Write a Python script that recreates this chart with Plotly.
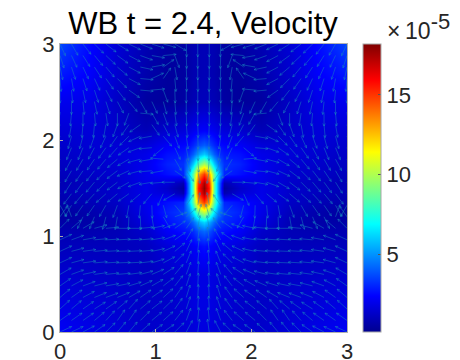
import math
import plotly.graph_objects as go

# Speed field (units of 1e-5) on a non-uniform mesh
speed_x = [0, .3, .6, .9, 1.12, 1.29, 1.35, 1.39, 1.44, 1.5, 1.56, 1.61, 1.65, 1.71, 1.88, 2.1, 2.4, 2.7, 3]
speed_y = [0, .3, .6, .9, 1.05, 1.15, 1.25, 1.35, 1.45, 1.5, 1.55, 1.65, 1.75, 1.85, 1.95, 2.1, 2.4, 2.7, 3]
speed = [
    [2.2, 1.9, 1.6, 1.3, 1.4, 1.5, 1.6, 1.6, 1.7, 1.7, 1.7, 1.6, 1.6, 1.5, 1.4, 1.3, 1.6, 1.9, 2.2],
    [1.8, 1.6, 1.4, 1.2, 1.3, 1.5, 1.6, 1.7, 1.8, 1.8, 1.8, 1.7, 1.6, 1.5, 1.3, 1.2, 1.4, 1.6, 1.8],
    [1.4, 1.3, 1.2, 1.1, 1.3, 1.5, 1.6, 1.7, 1.8, 1.8, 1.8, 1.7, 1.6, 1.5, 1.3, 1.1, 1.2, 1.3, 1.4],
    [1.0, 1.0, 1.0, 1.1, 1.6, 1.9, 2.0, 2.2, 2.4, 2.6, 2.4, 2.2, 2.0, 1.9, 1.6, 1.1, 1.0, 1.0, 1.0],
    [.8, .8, .9, 1.3, 2.2, 2.6, 2.8, 3.1, 3.8, 4.2, 3.8, 3.1, 2.8, 2.6, 2.2, 1.3, .9, .8, .8],
    [.6, .6, .85, 1.7, 2.6, 3.1, 3.5, 4.2, 5.4, 6.2, 5.4, 4.2, 3.5, 3.1, 2.6, 1.7, .85, .6, .6],
    [.4, .7, 1.0, 1.9, 2.9, 3.4, 4.7, 6.5, 9.0, 10.5, 9.0, 6.5, 4.7, 3.4, 2.9, 1.9, 1.0, .7, .4],
    [.7, .9, 1.2, 2.0, 2.6, 3.0, 6, 8.5, 13, 15, 13, 8.5, 6, 3.0, 2.6, 2.0, 1.2, .9, .7],
    [.85, 1.05, 1.3, 1.9, 1.6, .8, 5, 8.5, 15, 17.5, 15, 8.5, 5, .8, 1.6, 1.9, 1.3, 1.05, .85],
    [.9, 1.1, 1.3, 1.9, 1.3, .4, 5, 8.5, 15.5, 18, 15.5, 8.5, 5, .4, 1.3, 1.9, 1.3, 1.1, .9],
    [.85, 1.05, 1.3, 1.9, 1.6, .8, 5, 8.5, 15, 17.5, 15, 8.5, 5, .8, 1.6, 1.9, 1.3, 1.05, .85],
    [1.0, 1.2, 1.4, 2.0, 2.6, 3.0, 6, 8.5, 13, 15, 13, 8.5, 6, 3.0, 2.6, 2.0, 1.4, 1.2, 1.0],
    [1.1, 1.3, 1.5, 2.0, 2.9, 3.2, 4.5, 6, 8.5, 10, 8.5, 6, 4.5, 3.2, 2.9, 2.0, 1.5, 1.3, 1.1],
    [1.2, 1.4, 1.6, 1.9, 2.6, 2.8, 3.3, 4, 5.2, 6, 5.2, 4, 3.3, 2.8, 2.6, 1.9, 1.6, 1.4, 1.2],
    [1.3, 1.5, 1.5, 1.6, 2.2, 2.4, 2.6, 3, 3.6, 4, 3.6, 3, 2.6, 2.4, 2.2, 1.6, 1.5, 1.5, 1.3],
    [1.5, 1.6, 1.3, .9, 1.4, 1.6, 1.8, 2, 2.2, 2.3, 2.2, 2, 1.8, 1.6, 1.4, .9, 1.3, 1.6, 1.5],
    [2.0, 1.9, 1.2, .45, .35, .5, .7, .85, .95, 1.0, .95, .85, .7, .5, .35, .45, 1.2, 1.9, 2.0],
    [2.8, 2.3, 1.4, .7, .4, .45, .6, .75, .85, .9, .85, .75, .6, .45, .4, .7, 1.4, 2.3, 2.8],
    [3.6, 2.5, 1.5, .8, .5, .5, .7, .8, .9, .9, .9, .8, .7, .5, .5, .8, 1.5, 2.5, 3.6],
]

# Arrow mesh and arrow directions in degrees, rows from y=3 down to y=0
arrow_x = [0, .12, .24, .36, .48, .6, .72, .84, .96, 1.08, 1.2, 1.32, 1.44,
           1.56, 1.68, 1.8, 1.92, 2.04, 2.16, 2.28, 2.4, 2.52, 2.64, 2.76, 2.88, 3]
arrow_y = [3, 2.88, 2.76, 2.64, 2.52, 2.4, 2.28, 2.16, 2.04, 1.92, 1.8, 1.68, 1.56,
           1.44, 1.32, 1.2, 1.08, .96, .84, .72, .6, .48, .36, .24, .12, 0]
N = None
arrow_angle = [
    [-65, -60, -52, -45, -38, -32, -26, -22, -18, -15, -30, -88, -90, -90, -92, -150, -165, -162, -158, -154, -148, -142, -135, -128, -120, -115],
    [-72, -65, -58, -50, -43, -36, -28, -20, -10, 5, -70, -88, -90, -90, -92, -110, 175, -170, -160, -152, -144, -137, -130, -122, -115, -108],
    [-78, -72, -65, -57, -50, -40, -28, -12, 10, 35, -80, -88, -90, -90, -92, -100, 145, 170, -168, -152, -140, -130, -123, -115, -108, -102],
    [-85, -80, -72, -65, -55, -45, -28, -5, 25, 55, -85, -88, -89, -91, -92, -95, 125, 155, -175, -152, -135, -125, -115, -108, -100, -95],
    [-90, -85, -78, -72, -62, -52, -35, -5, 5, -70, -88, -90, -90, -90, -90, -92, -110, 175, -175, -145, -128, -118, -108, -102, -95, -90],
    [-95, -90, -84, -78, -72, -62, -50, -60, -65, -75, -85, -90, -90, -90, -90, -95, -105, -115, -120, -130, -118, -108, -102, -96, -90, -85],
    [-100, -95, -90, -85, -82, -90, -110, -5, -60, -70, -82, -88, -90, -90, -92, -98, -110, -120, -175, -70, -90, -98, -95, -90, -85, -80],
    [-105, -100, -95, -95, -100, -110, -125, -145, -55, -62, -75, -85, -88, -92, -95, -105, -118, -125, -35, -55, -70, -80, -85, -85, -80, -75],
    [-110, -105, -105, -110, -115, -125, -135, -155, -170, -50, -70, -82, -88, -92, -98, -110, -130, -10, -25, -45, -55, -65, -70, -75, -75, -70],
    [-113, -112, -112, -118, -125, -132, -145, -160, -175, -140, -65, -80, -88, -92, -100, -115, -40, -5, -20, -35, -48, -55, -62, -68, -68, -67],
    [-116, -118, -120, -124, -130, -140, -150, -165, -170, 175, -60, -72, -85, -95, -108, -120, 5, -10, -15, -30, -40, -50, -56, -60, -62, -64],
    [-118, -120, -124, -128, -135, -143, -155, -165, -175, -170, -35, -55, -80, -100, -125, -145, -10, -5, -15, -25, -37, -45, -52, -56, -60, -62],
    [-120, -122, -126, -130, -135, -143, -150, -160, -170, -175, 180, N, N, N, N, 0, -5, -10, -20, -30, -37, -45, -50, -54, -58, -60],
    [-125, -127, -130, -133, -138, -140, -145, -140, -130, -115, -150, N, N, N, N, -30, -65, -50, -40, -35, -40, -42, -47, -50, -53, -55],
    [-60, -120, -125, -125, -120, -110, -100, -95, -88, -75, -50, 55, 80, 100, 125, -130, -105, -92, -85, -80, -70, -60, -55, -55, -60, -120],
    [55, 110, -115, -112, -105, -100, -92, -88, -80, -60, 20, 40, 75, 105, 140, 160, -120, -100, -92, -88, -80, -75, -68, -65, 70, 125],
    [45, 40, 30, 15, 5, 0, 0, 5, 12, 20, 35, 55, 80, 100, 125, 145, 160, 168, 175, 180, 180, 175, 165, 150, 140, 135],
    [25, 20, 10, 5, 3, 3, 3, 5, 10, 20, 35, 60, 82, 98, 120, 145, 160, 170, 175, 177, 177, 177, 175, 170, 160, 155],
    [25, 15, 8, 5, 3, 2, 3, 5, 12, 25, 40, 65, 84, 96, 115, 140, 155, 168, 175, 177, 178, 177, 175, 172, 165, 155],
    [25, 15, 8, 5, 3, 2, 3, 7, 17, 28, 45, 68, 85, 95, 112, 135, 152, 163, 173, 177, 178, 177, 175, 172, 165, 155],
    [30, 20, 12, 8, 6, 5, 8, 15, 23, 33, 50, 70, 86, 94, 110, 130, 147, 157, 165, 172, 175, 174, 172, 168, 160, 150],
    [35, 28, 20, 14, 10, 12, 17, 24, 30, 38, 52, 72, 87, 93, 108, 128, 142, 150, 156, 163, 168, 170, 166, 160, 152, 145],
    [40, 35, 28, 22, 20, 22, 30, 35, 35, 42, 55, 73, 87, 93, 107, 125, 138, 145, 145, 150, 158, 160, 158, 152, 145, 140],
    [42, 40, 35, 32, 35, 40, 48, 40, 38, 44, 55, 72, 87, 93, 108, 125, 136, 142, 140, 132, 140, 145, 148, 145, 140, 138],
    [35, 35, 35, 40, 48, 55, 55, 45, 40, 42, 52, 70, 85, 95, 110, 128, 138, 140, 135, 125, 125, 132, 140, 145, 145, 145],
    [25, 25, 28, 35, 45, 50, 50, 42, 35, 35, 45, 62, 82, 98, 118, 135, 145, 145, 138, 130, 130, 135, 145, 152, 155, 155],
]

axis_ticks = [0, 1, 2, 3]
colorbar_ticks = [5, 10, 15]
title_text = "WB t = 2.4, Velocity"
exponent_text = '×\u200910<sup><span style="font-size:22px">-5</span></sup>'

ARROW_LEN = 0.135
HEAD_LEN = 0.03
jet = [[0, "rgb(0,0,143)"], [.125, "rgb(0,0,255)"], [.375, "rgb(0,255,255)"],
       [.625, "rgb(255,255,0)"], [.875, "rgb(255,0,0)"], [1, "rgb(128,0,0)"]]

line_x, line_y = [], []
for j, y0 in enumerate(arrow_y):
    for i, x0 in enumerate(arrow_x):
        a = arrow_angle[j][i]
        if a is None:
            continue
        t = math.radians(a)
        tx, ty = x0 + ARROW_LEN * math.cos(t), y0 + ARROW_LEN * math.sin(t)
        line_x += [x0, tx, None]
        line_y += [y0, ty, None]
        for da in (155, -155):
            h = t + math.radians(da)
            line_x += [tx, tx + HEAD_LEN * math.cos(h), None]
            line_y += [ty, ty + HEAD_LEN * math.sin(h), None]

FONT = "Liberation Sans, Arial, sans-serif"
L, R, T, B = 60, 347, 44, 332

fig = go.Figure()
fig.add_trace(go.Heatmap(
    x=speed_x, y=speed_y, z=speed, zsmooth="best", zmin=0.1, zmax=18.2,
    colorscale=jet, hoverinfo="skip",
    colorbar=dict(
        x=(363 - L) / (R - L), xanchor="left", xpad=0, ypad=0, y=0.5, yanchor="middle",
        len=1, lenmode="fraction", thickness=18, thicknessmode="pixels",
        tickvals=colorbar_ticks, ticks="inside", ticklen=3, tickcolor="#555555",
        outlinecolor="#a8a8a8", outlinewidth=1,
        tickfont=dict(family=FONT, size=22, color="#262626"),
    ),
))
fig.add_trace(go.Scatter(
    x=line_x, y=line_y, mode="lines", cliponaxis=True, hoverinfo="skip", showlegend=False,
    line=dict(color="rgba(25,135,190,0.55)", width=0.9),
))

axis_style = dict(
    range=[0, 3], tickvals=axis_ticks, ticks="inside", ticklen=3, tickcolor="#a8a8a8",
    showgrid=False, zeroline=False, showline=True, linecolor="#b0b0b0", linewidth=1, mirror=True,
    automargin=False, tickfont=dict(family=FONT, size=22, color="#262626"),
)
fig.update_layout(
    width=460, height=360, paper_bgcolor="white", plot_bgcolor="white", showlegend=False,
    margin=dict(l=L, r=460 - R, t=T, b=360 - B, pad=0),
    xaxis=dict(axis_style, ticklabelstandoff=0),
    yaxis=dict(axis_style),
    title=dict(text=title_text, font=dict(family=FONT, size=31, color="black"),
               x=203 / 460, xanchor="center", y=1 - 23 / 360, yanchor="middle"),
    annotations=[dict(text=exponent_text, xref="paper", yref="paper",
                      x=(385 - L) / (R - L), y=(B - 26) / (B - T),
                      xanchor="left", yanchor="middle", showarrow=False,
                      font=dict(family=FONT, size=23, color="#262626"))],
)
fig.write_html("out.html", config={"displayModeBar": False},
               post_script="document.body.style.margin='0';")
